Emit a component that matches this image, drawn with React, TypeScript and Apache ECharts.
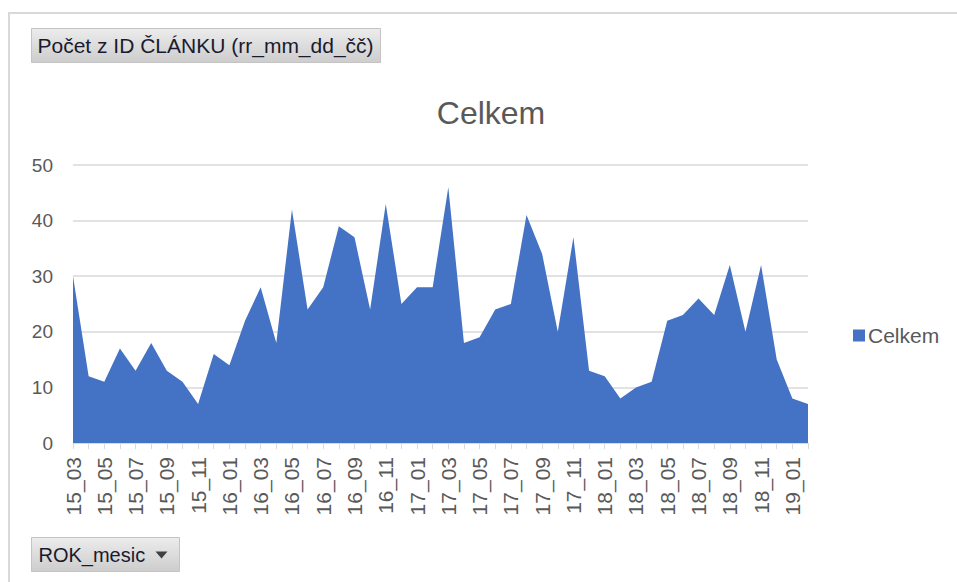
import React, { useEffect, useRef } from "react";
import * as echarts from "echarts";

const categories: string[] = [
  "15_03", "15_04", "15_05", "15_06", "15_07", "15_08", "15_09", "15_10", "15_11", "15_12",
  "16_01", "16_02", "16_03", "16_04", "16_05", "16_06", "16_07", "16_08", "16_09", "16_10", "16_11", "16_12",
  "17_01", "17_02", "17_03", "17_04", "17_05", "17_06", "17_07", "17_08", "17_09", "17_10", "17_11", "17_12",
  "18_01", "18_02", "18_03", "18_04", "18_05", "18_06", "18_07", "18_08", "18_09", "18_10", "18_11", "18_12",
  "19_01", "19_02",
];

const celkem: number[] = [
  30, 12, 11, 17, 13, 18, 13, 11, 7, 16,
  14, 22, 28, 18, 42, 24, 28, 39, 37, 24, 43, 25,
  28, 28, 46, 18, 19, 24, 25, 41, 34, 20, 37, 13,
  12, 8, 10, 11, 22, 23, 26, 23, 32, 20, 32, 15,
  8, 7,
];

const seriesName = "Celkem";
const titleText = "Celkem";
const valueFieldLabel = "Počet z ID ČLÁNKU (rr_mm_dd_čč)";
const axisFieldLabel = "ROK_mesic";

const FONT = "'Liberation Sans', Arial, sans-serif";

export default function App() {
  const ref = useRef<HTMLDivElement>(null);

  useEffect(() => {
    if (!ref.current) return;
    const chart = echarts.init(ref.current, undefined, { renderer: "svg" });
    const btnGradient = new echarts.graphic.LinearGradient(0, 0, 0, 1, [
      { offset: 0, color: "#ececec" },
      { offset: 1, color: "#cdcdcd" },
    ]);
    chart.setOption({
      animation: false,
      backgroundColor: "#ffffff",
      textStyle: { fontFamily: FONT },
      title: {
        text: titleText,
        left: 486,
        top: 92,
        textAlign: "center",
        textStyle: { fontFamily: FONT, fontSize: 32, fontWeight: "normal", color: "#595959" },
      },
      legend: {
        data: [seriesName],
        left: 848,
        top: 320,
        icon: "rect",
        itemWidth: 12,
        itemHeight: 12,
        itemGap: 5,
        textStyle: { fontFamily: FONT, fontSize: 21, color: "#595959", padding: [0, 0, 0, -2] },
      },
      grid: { left: 73, right: 149, top: 165, bottom: 139, containLabel: false },
      xAxis: {
        type: "category",
        data: categories,
        boundaryGap: false,
        axisLine: { show: true, lineStyle: { color: "#d9d9d9", width: 1 } },
        axisTick: { show: true, interval: 0, length: 6, lineStyle: { color: "#d9d9d9" } },
        axisLabel: {
          interval: 1,
          rotate: 90,
          margin: 14,
          fontFamily: FONT,
          fontSize: 21,
          color: "#595959",
        },
        splitLine: { show: false },
      },
      yAxis: {
        type: "value",
        min: 0,
        max: 50,
        interval: 10,
        axisLine: { show: false },
        axisTick: { show: false },
        axisLabel: { margin: 20, fontFamily: FONT, fontSize: 19, color: "#595959" },
        splitLine: { lineStyle: { color: "#d9d9d9", width: 1.5 } },
      },
      series: [
        {
          name: seriesName,
          type: "line",
          data: celkem,
          showSymbol: false,
          symbol: "none",
          lineStyle: { width: 0, color: "#4472c4" },
          itemStyle: { color: "#4472c4" },
          areaStyle: { color: "#4472c4", opacity: 1 },
        },
      ],
      graphic: [
        {
          type: "rect",
          shape: { x: 9, y: 13, width: 1000, height: 700 },
          style: { fill: "none", stroke: "#d9d9d9", lineWidth: 2 },
          silent: true,
        },
        {
          type: "group",
          left: 31,
          top: 28,
          children: [
            {
              type: "rect",
              shape: { x: 0, y: 0, width: 349, height: 34 },
              style: { fill: btnGradient, stroke: "#c4c4c4", lineWidth: 1 },
            },
            {
              type: "text",
              x: 6,
              y: 17,
              style: {
                text: valueFieldLabel,
                fontFamily: FONT,
                fontSize: 21,
                fill: "#1a1a2e",
                verticalAlign: "middle",
              },
            },
          ],
        },
        {
          type: "group",
          left: 31,
          top: 537,
          children: [
            {
              type: "rect",
              shape: { x: 0, y: 0, width: 148, height: 34 },
              style: { fill: btnGradient, stroke: "#c4c4c4", lineWidth: 1 },
            },
            {
              type: "text",
              x: 7,
              y: 17,
              style: {
                text: axisFieldLabel,
                fontFamily: FONT,
                fontSize: 20,
                fill: "#1a1a2e",
                verticalAlign: "middle",
              },
            },
            {
              type: "polygon",
              shape: { points: [[124, 14], [136, 14], [130, 21]] },
              style: { fill: "#404040" },
            },
          ],
        },
      ],
    });
    return () => chart.dispose();
  }, []);

  return (
    <div
      ref={ref}
      style={{ position: "fixed", left: 0, top: 0, width: 957, height: 582, background: "#fff" }}
    />
  );
}
